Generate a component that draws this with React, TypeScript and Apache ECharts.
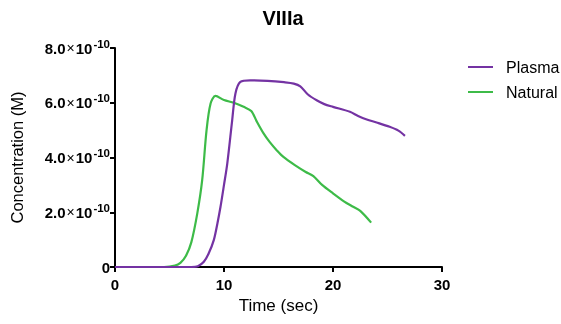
import React, { useEffect, useRef } from "react";
import * as echarts from "echarts";

const title = "VIIIa";
const seriesNames = ["Plasma", "Natural"];
// time (sec), concentration (×10^-10 M)
const plasmaTime = [0, 7.0, 7.6, 8.15, 8.6, 9.07, 9.4, 9.68, 10.0, 10.3, 10.75, 11.05, 11.5, 12.4, 14.0, 15.5, 16.4, 17.0, 17.7, 18.5, 19.2, 20.0, 21.55, 22.3, 23.1, 24.0, 25.2, 26.0, 26.6];
const plasmaValue = [0, 0, 0.03, 0.19, 0.5, 0.99, 1.6, 2.2, 3.0, 3.78, 5.36, 6.34, 6.76, 6.82, 6.8, 6.75, 6.7, 6.6, 6.3, 6.09, 5.95, 5.85, 5.67, 5.52, 5.39, 5.28, 5.12, 4.98, 4.79];
const naturalTime = [0, 4.5, 5.5, 6.0, 6.5, 7.0, 7.55, 8.0, 8.4, 8.77, 9.22, 10.0, 10.9, 11.8, 12.5, 13.0, 13.6, 14.2, 14.85, 15.45, 16.5, 17.5, 18.2, 19.0, 20.0, 21.0, 21.85, 22.5, 23.5];
const naturalValue = [0, 0, 0.05, 0.15, 0.4, 0.9, 1.96, 3.18, 5.0, 5.97, 6.25, 6.1, 6.0, 5.85, 5.7, 5.32, 4.9, 4.56, 4.26, 4.02, 3.72, 3.47, 3.32, 3.0, 2.69, 2.4, 2.2, 2.05, 1.62];
const xTicks = [0, 10, 20, 30];
const yTicks = [0, 2, 4, 6, 8];

const colors = ["#7433a3", "#3dbb48"];
const font = "Liberation Sans";

function zip(a: number[], b: number[]) {
  return a.map((v, i) => [v, b[i]]);
}

export default function App() {
  const ref = useRef<HTMLDivElement>(null);
  useEffect(() => {
    const chart = echarts.init(ref.current!, null, { renderer: "svg" });
    chart.setOption({
      animation: false,
      title: {
        text: title,
        left: 278,
        textAlign: "center",
        top: 3,
        textStyle: { fontFamily: font, fontSize: 20, fontWeight: "bold", color: "#000" },
      },
      legend: {
        orient: "vertical",
        left: 463,
        top: 54,
        icon: "rect",
        itemWidth: 25,
        itemHeight: 2,
        itemGap: 9,
        textStyle: { fontFamily: font, fontSize: 16, color: "#000", padding: [0, 0, 0, 8] },
        data: seriesNames,
      },
      grid: { left: 114, right: 119, top: 48, bottom: 57 },
      xAxis: {
        type: "value",
        min: xTicks[0],
        max: xTicks[xTicks.length - 1],
        interval: 10,
        name: "Time (sec)",
        nameLocation: "middle",
        nameGap: 30,
        nameTextStyle: { fontFamily: font, fontSize: 17, color: "#000" },
        axisLine: { lineStyle: { color: "#000", width: 2 } },
        axisTick: { length: 5, lineStyle: { color: "#000", width: 2 } },
        axisLabel: { fontFamily: font, fontSize: 15, fontWeight: "bold", color: "#000", margin: 10 },
        splitLine: { show: false },
      },
      yAxis: {
        type: "value",
        min: yTicks[0],
        max: yTicks[yTicks.length - 1],
        interval: 2,
        name: "Concentration (M)",
        nameLocation: "middle",
        nameGap: 90,
        nameTextStyle: { fontFamily: font, fontSize: 16.5, color: "#000" },
        axisLine: { lineStyle: { color: "#000", width: 2 } },
        axisTick: { length: 5, lineStyle: { color: "#000", width: 2 } },
        axisLabel: {
          margin: 5,
          formatter: (v: number) => (v === 0 ? "{b|0}" : "{b|" + v.toFixed(1) + "}{x|×}{b|10}{s|-10}"),
          rich: {
            b: { fontFamily: font, fontSize: 15, fontWeight: "bold", color: "#000" },
            x: { fontFamily: font, fontSize: 14, color: "#000", padding: [0, 1, 0, 1] },
            s: { fontFamily: font, fontSize: 11.5, fontWeight: "bold", color: "#000", padding: [0, 0, 9, 1] },
          },
        },
        splitLine: { show: false },
      },
      series: [
        {
          name: seriesNames[0],
          type: "line",
          data: zip(plasmaTime, plasmaValue),
          smooth: 0.3,
          showSymbol: false,
          symbol: "none",
          lineStyle: { color: colors[0], width: 2.2 },
          itemStyle: { color: colors[0] },
          z: 3,
        },
        {
          name: seriesNames[1],
          type: "line",
          data: zip(naturalTime, naturalValue),
          smooth: 0.3,
          showSymbol: false,
          symbol: "none",
          lineStyle: { color: colors[1], width: 2.2 },
          itemStyle: { color: colors[1] },
          z: 2,
        },
      ],
    });
    return () => chart.dispose();
  }, []);
  return <div ref={ref} style={{ position: "fixed", left: 0, top: 0, width: 561, height: 324 }} />;
}
